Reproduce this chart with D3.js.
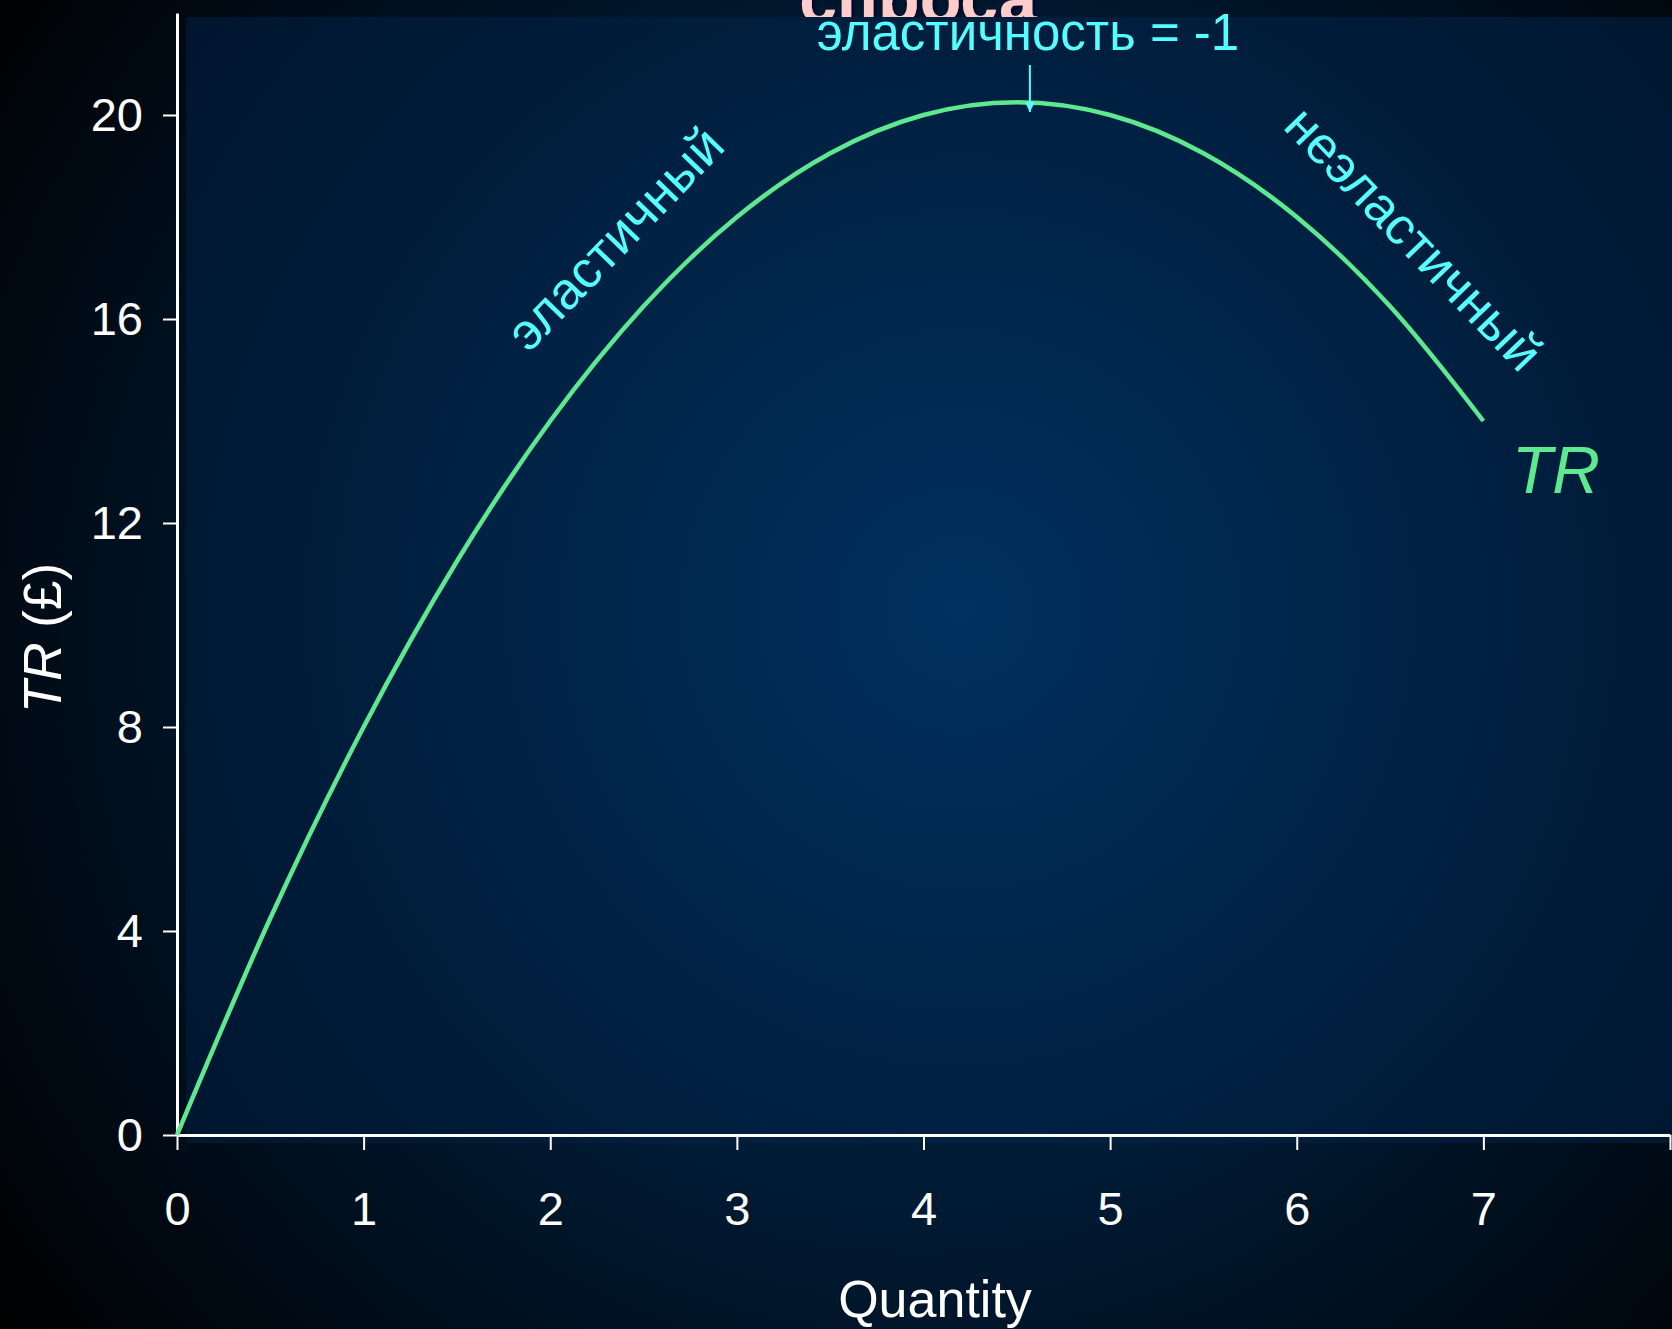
<!DOCTYPE html>
<html>
<head>
<meta charset="utf-8">
<script src="https://cdn.jsdelivr.net/npm/d3@7"></script>
<style>
    body { margin: 0; background: #000; }
    svg { display: block; }
</style>
</head>
<body>
<div id="chart"></div>
<script>
/*-------------------- Data --------------------*/

var quantities = [0, 0.5, 1, 1.5, 2, 2.5, 3, 3.5, 4, 4.5, 5, 5.5, 6, 6.5, 7];
var revenues   = [0, 4.25, 8, 11.25, 14, 16.25, 18, 19.25, 20, 20.25, 20, 19.25, 18, 16.25, 14];

var xTicks = [0, 1, 2, 3, 4, 5, 6, 7, 8];
var xTickLabels = ["0", "1", "2", "3", "4", "5", "6", "7", ""]; // last tick is cut by the slide edge
var yTicks = [0, 4, 8, 12, 16, 20];

var titleText = "спроса";
var unitElasticText = "эластичность = -1";
var elasticText = "эластичный";
var inelasticText = "неэластичный";
var curveLabel = "TR";

// where the arrow points (Q, TR from / to)
var arrowQ = 4.57;
var arrowFrom = 20.98, arrowTo = 20.06;

/*-------------------- Setup --------------------*/

var W = 1672, H = 1329;
var svg, xScale, yScale;

function setupSvg() {
    svg = d3.select("#chart").append("svg")
        .attr("width", W)
        .attr("height", H);

    var defs = svg.append("defs");

    var bg = defs.append("radialGradient")
        .attr("id", "bgGrad")
        .attr("gradientUnits", "userSpaceOnUse")
        .attr("cx", 920).attr("cy", 640).attr("r", 1150);
    bg.append("stop").attr("offset", 0).attr("stop-color", "#002a52");
    bg.append("stop").attr("offset", 0.5).attr("stop-color", "#001a33");
    bg.append("stop").attr("offset", 1).attr("stop-color", "#000000");

    var panel = defs.append("radialGradient")
        .attr("id", "panelGrad")
        .attr("gradientUnits", "userSpaceOnUse")
        .attr("cx", 960).attr("cy", 610).attr("r", 1000);
    panel.append("stop").attr("offset", 0).attr("stop-color", "#00315f");
    panel.append("stop").attr("offset", 0.7).attr("stop-color", "#001b38");
    panel.append("stop").attr("offset", 1).attr("stop-color", "#00152e");

    var marker = defs.append("marker")
        .attr("id", "arrowHead")
        .attr("viewBox", "0 0 10 10")
        .attr("refX", 10).attr("refY", 5)
        .attr("markerWidth", 5).attr("markerHeight", 5)
        .attr("orient", "auto");
    marker.append("path").attr("d", "M0,0 L10,5 L0,10 Z").attr("fill", "#55ffff");

    var shadow = defs.append("filter").attr("id", "titleShadow");
    shadow.append("feDropShadow")
        .attr("dx", 2).attr("dy", 2).attr("stdDeviation", 2)
        .attr("flood-color", "#000033");

    svg.append("rect").attr("width", W).attr("height", H).attr("fill", "url(#bgGrad)");

    // title sits behind the plot panel (cut off like in the slide)
    svg.append("text")
        .attr("x", 918).attr("y", 22)
        .attr("text-anchor", "middle")
        .attr("font-family", "Liberation Sans, Arial, sans-serif")
        .attr("font-weight", "bold")
        .attr("font-size", 68)
        .attr("fill", "#ffcccc")
        .attr("filter", "url(#titleShadow)")
        .text(titleText);

    svg.append("rect")
        .attr("x", 186).attr("y", 17)
        .attr("width", W - 186).attr("height", 1143 - 17)
        .attr("fill", "url(#panelGrad)");
}

function setupAxes() {
    xScale = d3.scaleLinear().domain([0, 8]).range([177, 1670]);
    yScale = d3.scaleLinear().domain([0, 22]).range([1135, 13]);

    var gx = svg.append("g")
        .attr("transform", "translate(0," + yScale(0) + ")")
        .call(d3.axisBottom(xScale)
            .tickValues(xTicks)
            .tickFormat((d, i) => xTickLabels[i])
            .tickSize(15).tickSizeOuter(0).tickPadding(42));

    var gy = svg.append("g")
        .attr("transform", "translate(" + xScale(0) + ",0)")
        .call(d3.axisLeft(yScale).tickValues(yTicks).tickSize(14).tickSizeOuter(0).tickPadding(20));

    [gx, gy].forEach(function(g) {
        g.select(".domain").attr("stroke", "#ffffff").attr("stroke-width", 3);
        g.selectAll(".tick line").attr("stroke", "#ffffff").attr("stroke-width", 2);
        g.selectAll(".tick text")
            .attr("fill", "#ffffff")
            .attr("font-family", "Liberation Sans Narrow, Arial Narrow, Liberation Sans, sans-serif")
            .attr("font-size", 47);
    });

    svg.append("text")
        .attr("x", 935).attr("y", 1317)
        .attr("text-anchor", "middle")
        .attr("font-family", "Liberation Sans, Arial, sans-serif")
        .attr("font-size", 52)
        .attr("fill", "#ffffff")
        .text("Quantity");

    var yTitle = svg.append("text")
        .attr("transform", "translate(61,638) rotate(-90)")
        .attr("text-anchor", "middle")
        .attr("font-family", "Liberation Sans, Arial, sans-serif")
        .attr("font-size", 53)
        .attr("fill", "#ffffff");
    yTitle.append("tspan").attr("font-style", "italic").text("TR");
    yTitle.append("tspan").text(" (£)");
}

function drawCurve() {
    var pts = quantities.map(function(q, i) { return [q, revenues[i]]; });

    var line = d3.line()
        .x(d => xScale(d[0]))
        .y(d => yScale(d[1]))
        .curve(d3.curveMonotoneX);

    svg.append("path")
        .datum(pts)
        .attr("d", line)
        .attr("fill", "none")
        .attr("stroke", "#5ee890")
        .attr("stroke-width", 4.5);

    svg.append("text")
        .attr("x", 1512).attr("y", 493)
        .attr("font-family", "Liberation Sans, Arial, sans-serif")
        .attr("font-style", "italic")
        .attr("font-size", 66)
        .attr("fill", "#5ee890")
        .text(curveLabel);
}

function drawAnnotations() {
    var font = "Liberation Sans, Arial, sans-serif";

    svg.append("text")
        .attr("x", 1028).attr("y", 50)
        .attr("text-anchor", "middle")
        .attr("font-family", font)
        .attr("font-size", 51)
        .attr("fill", "#55ffff")
        .text(unitElasticText);

    svg.append("line")
        .attr("x1", xScale(arrowQ)).attr("y1", yScale(arrowFrom))
        .attr("x2", xScale(arrowQ)).attr("y2", yScale(arrowTo))
        .attr("stroke", "#55ffff")
        .attr("stroke-width", 2)
        .attr("marker-end", "url(#arrowHead)");

    svg.append("text")
        .attr("transform", "translate(628,251) rotate(-46)")
        .attr("text-anchor", "middle")
        .attr("font-family", font)
        .attr("font-size", 52)
        .attr("fill", "#55ffff")
        .text(elasticText);

    svg.append("text")
        .attr("transform", "translate(1401,251) rotate(46)")
        .attr("text-anchor", "middle")
        .attr("font-family", font)
        .attr("font-size", 52)
        .attr("fill", "#55ffff")
        .text(inelasticText);
}

setupSvg();
setupAxes();
drawCurve();
drawAnnotations();
</script>
</body>
</html>
